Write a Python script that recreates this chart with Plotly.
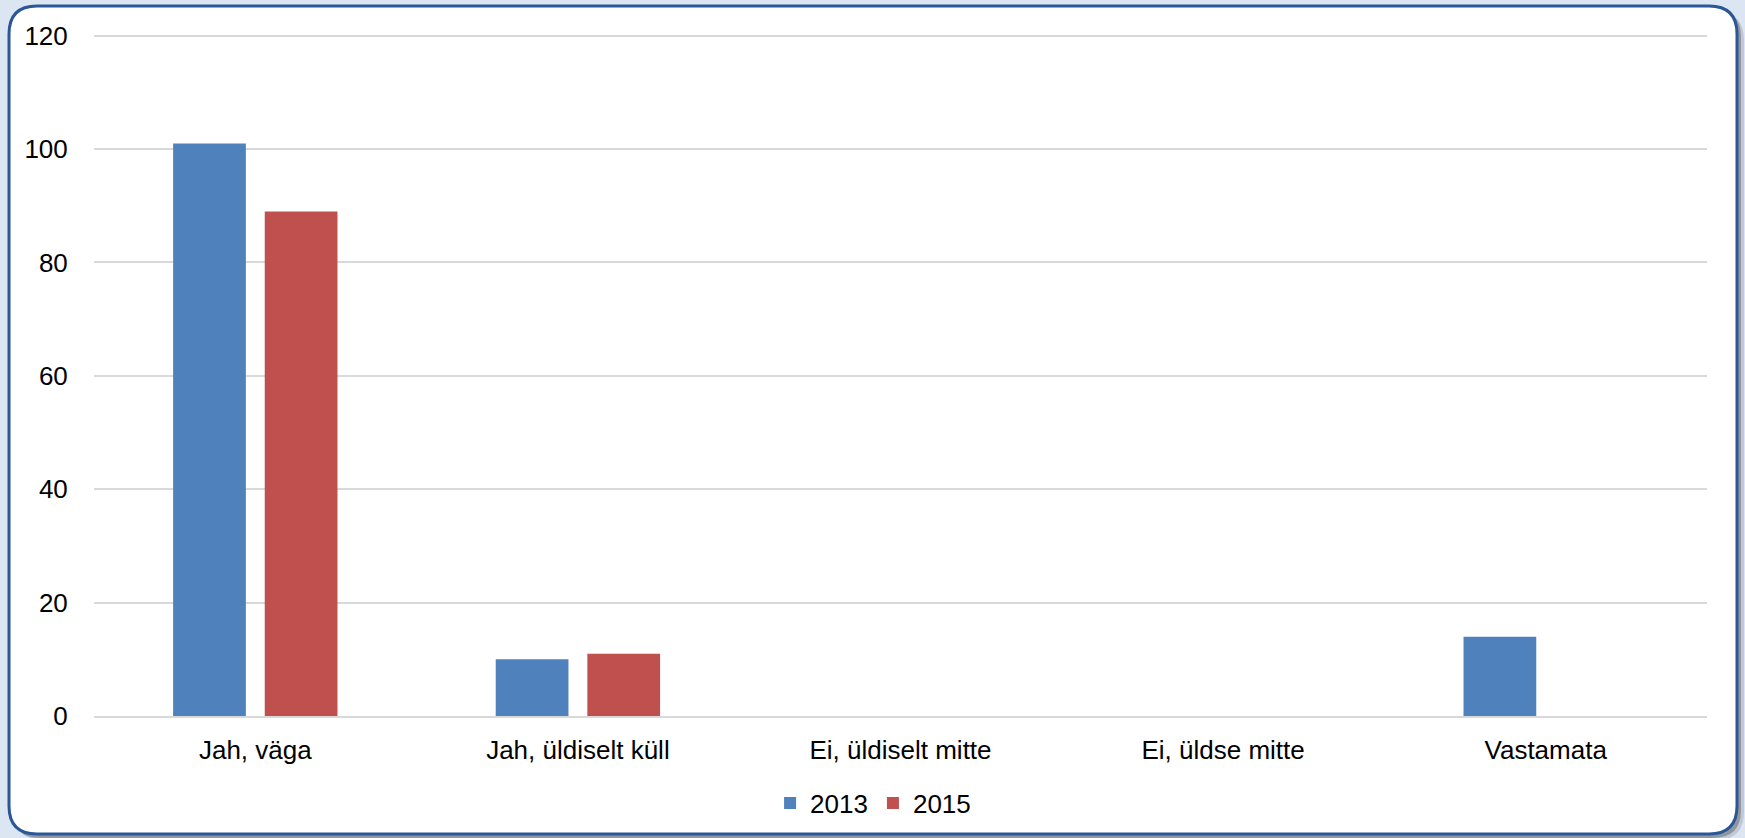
import plotly.graph_objects as go

categories = ["Jah, väga", "Jah, üldiselt küll", "Ei, üldiselt mitte", "Ei, üldse mitte", "Vastamata"]
values_2013 = [101, 10, 0, 0, 14]
values_2015 = [89, 11, 0, 0, 0]
series_names = ["2013", "2015"]
y_ticks = [0, 20, 40, 60, 80, 100, 120]

W, H = 1745, 838
L, R, T, B = 94, 38, 30, 122
PW, PH = W - L - R, H - T - B
YMAX = 121


def px(x):
    return (x - L) / PW


def py(y):
    return (H - B - y) / PH


def rounded(x0, y0, x1, y1, r):
    pts = [
        f"M{px(x0 + r)},{py(y0)}",
        f"L{px(x1 - r)},{py(y0)}",
        f"Q{px(x1)},{py(y0)} {px(x1)},{py(y0 + r)}",
        f"L{px(x1)},{py(y1 - r)}",
        f"Q{px(x1)},{py(y1)} {px(x1 - r)},{py(y1)}",
        f"L{px(x0 + r)},{py(y1)}",
        f"Q{px(x0)},{py(y1)} {px(x0)},{py(y1 - r)}",
        f"L{px(x0)},{py(y0 + r)}",
        f"Q{px(x0)},{py(y0)} {px(x0 + r)},{py(y0)}",
        "Z",
    ]
    return " ".join(pts)


fig = go.Figure()
fig.add_trace(go.Bar(x=categories, y=values_2013, name=series_names[0],
                     marker=dict(color="#4F81BD", line=dict(width=0))))
fig.add_trace(go.Bar(x=categories, y=values_2015, name=series_names[1],
                     marker=dict(color="#C0504D", line=dict(width=0))))

shapes = [
    dict(type="path", xref="paper", yref="paper", path=rounded(15, 12, 1744, 840, 28),
         fillcolor="rgba(0,0,0,0.12)", line=dict(width=0), layer="below"),
    dict(type="path", xref="paper", yref="paper", path=rounded(12, 9, 1741, 838, 28),
         fillcolor="rgba(0,0,0,0.25)", line=dict(width=0), layer="below"),
    dict(type="path", xref="paper", yref="paper", path=rounded(9, 6, 1737, 834, 28),
         fillcolor="white", line=dict(color="#2B5797", width=3), layer="below"),
]

fig.update_layout(
    width=W, height=H,
    margin=dict(l=L, r=R, t=T, b=B, autoexpand=False),
    paper_bgcolor="#DCE6F2",
    plot_bgcolor="rgba(0,0,0,0)",
    barmode="group",
    bargap=0.432,
    bargroupgap=0.206,
    shapes=shapes,
    font=dict(family="Liberation Sans, Arial, sans-serif", size=26, color="#000000"),
    legend=dict(orientation="h", x=0.483, xanchor="center", y=py(803), yanchor="middle",
                font=dict(size=26), bgcolor="rgba(0,0,0,0)", itemwidth=30),
    showlegend=True,
)
fig.update_yaxes(range=[0, YMAX], tickvals=y_ticks, showgrid=True, gridcolor="#D9D9D9",
                 gridwidth=1.5, zeroline=False, showline=False,
                 ticks="outside", ticklen=20, tickcolor="rgba(0,0,0,0)")
fig.update_xaxes(showgrid=False, showline=True, linecolor="#D9D9D9", linewidth=1.5,
                 ticks="outside", ticklen=10, tickcolor="rgba(0,0,0,0)")

fig.write_html(
    "out.html",
    config={"displayModeBar": False},
    post_script="document.body.style.margin='0';document.body.style.overflow='hidden';"
                "document.body.style.background='#DCE6F2';",
)
